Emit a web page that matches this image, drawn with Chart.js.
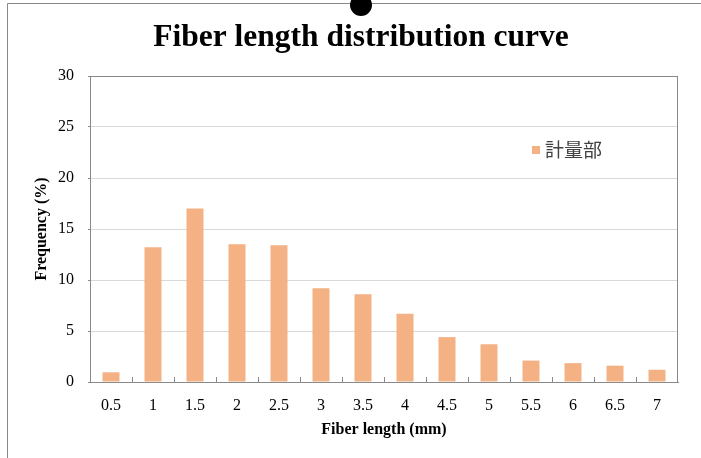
<!DOCTYPE html>
<html>
<head>
<meta charset="utf-8">
<script src="https://cdn.jsdelivr.net/npm/chart.js@4/dist/chart.umd.min.js"></script>
<style>
  html, body { margin: 0; padding: 0; background: #ffffff; }
  #wrap { width: 701px; height: 458px; }
</style>
</head>
<body>
<div id="wrap"><canvas id="c" width="701" height="458"></canvas></div>
<script>
// Fiber length classes (mm) and their frequency (%)
const lengthLabels = ['0.5', '1', '1.5', '2', '2.5', '3', '3.5', '4', '4.5', '5', '5.5', '6', '6.5', '7'];
const frequency = [0.95, 13.2, 17.0, 13.5, 13.4, 9.2, 8.6, 6.7, 4.4, 3.7, 2.1, 1.85, 1.6, 1.2];
const seriesName = '計量部';
const chartTitle = 'Fiber length distribution curve';
const yTicks = [0, 5, 10, 15, 20, 25, 30];

const BAR_COLOR = '#F4B183';
const AXIS_GRAY = '#898989';
const GRID_GRAY = '#D9D9D9';
const SERIF = '"Liberation Serif", "Times New Roman", serif';

// page frame, title, plot border, inward category ticks and in-plot legend
const decor = {
  id: 'decor',
  beforeDraw(chart) {
    const ctx = chart.ctx;
    ctx.save();
    ctx.fillStyle = '#ffffff';
    ctx.fillRect(0, 0, chart.width, chart.height);
    ctx.strokeStyle = AXIS_GRAY;
    ctx.lineWidth = 1;
    ctx.beginPath();
    ctx.moveTo(7.5, chart.height);
    ctx.lineTo(7.5, 3.5);
    ctx.lineTo(chart.width, 3.5);
    ctx.stroke();
    // title
    ctx.fillStyle = '#000000';
    ctx.font = 'bold 31.5px ' + SERIF;
    ctx.textAlign = 'center';
    ctx.textBaseline = 'middle';
    ctx.fillText(chartTitle, 361, 38);
    ctx.restore();
  },
  afterDatasetsDraw(chart) {
    const ctx = chart.ctx;
    const a = chart.chartArea;
    const xs = chart.scales.x;
    ctx.save();
    ctx.strokeStyle = AXIS_GRAY;
    ctx.lineWidth = 1;
    ctx.strokeRect(Math.round(a.left) + 0.5, Math.round(a.top) + 0.5,
                   Math.round(a.right - a.left) - 1, Math.round(a.bottom - a.top));
    // tick marks between categories, pointing into the plot
    ctx.beginPath();
    for (let i = 1; i < lengthLabels.length; i++) {
      const x = Math.round((xs.getPixelForTick(i - 1) + xs.getPixelForTick(i)) / 2) + 0.5;
      ctx.moveTo(x, Math.round(a.bottom));
      ctx.lineTo(x, Math.round(a.bottom) - 5);
    }
    ctx.stroke();
    // legend
    const ds = chart.data.datasets[0];
    ctx.fillStyle = ds.backgroundColor;
    ctx.fillRect(532, 146, 8, 8);
    ctx.fillStyle = '#404040';
    ctx.font = '19px "Noto Sans CJK JP", "Noto Sans CJK SC", sans-serif';
    ctx.textBaseline = 'middle';
    ctx.textAlign = 'left';
    ctx.fillText(ds.label, 545, 150);
    ctx.restore();
  },
  afterDraw(chart) {
    const ctx = chart.ctx;
    ctx.save();
    ctx.fillStyle = '#000000';
    ctx.beginPath();
    ctx.arc(361, 5, 11, 0, Math.PI * 2);
    ctx.fill();
    ctx.restore();
  }
};

new Chart(document.getElementById('c'), {
  type: 'bar',
  data: {
    labels: lengthLabels,
    datasets: [{
      label: seriesName,
      data: frequency,
      backgroundColor: BAR_COLOR,
      borderWidth: 0,
      barPercentage: 0.405,
      categoryPercentage: 1.0
    }]
  },
  options: {
    responsive: false,
    animation: false,
    devicePixelRatio: 1,
    layout: { padding: { left: 0, right: 23, top: 76, bottom: 0 } },
    plugins: {
      legend: { display: false },
      tooltip: { enabled: false },
      title: { display: false }
    },
    scales: {
      x: {
        offset: true,
        grid: {
          offset: true,
          drawOnChartArea: false,
          drawTicks: false
        },
        border: { display: true, color: AXIS_GRAY },
        ticks: {
          color: '#000000',
          font: { family: SERIF, size: 16 },
          padding: 14,
          maxRotation: 0,
          autoSkip: false
        },
        title: {
          display: true,
          text: 'Fiber length (mm)',
          color: '#000000',
          font: { family: SERIF, size: 16, weight: 'bold' },
          padding: { top: 0, bottom: 19 }
        },
        afterFit(scale) { scale.height = 76; }
      },
      y: {
        min: 0,
        max: 30,
        afterBuildTicks(scale) { scale.ticks = yTicks.map(v => ({ value: v })); },
        grid: {
          color: ctx => (ctx.tick && (ctx.tick.value === 0 || ctx.tick.value === 30)) ? AXIS_GRAY : GRID_GRAY,
          tickColor: AXIS_GRAY,
          tickLength: 2,
          drawTicks: true
        },
        border: { display: true, color: AXIS_GRAY },
        ticks: {
          color: '#000000',
          font: { family: SERIF, size: 16 },
          padding: 14
        },
        title: {
          display: true,
          text: 'Frequency (%)',
          color: '#000000',
          font: { family: SERIF, size: 16, weight: 'bold' },
          padding: { top: 32, bottom: 0 }
        },
        afterFit(scale) { scale.width = 90; }
      }
    }
  },
  plugins: [decor]
});
</script>
</body>
</html>
